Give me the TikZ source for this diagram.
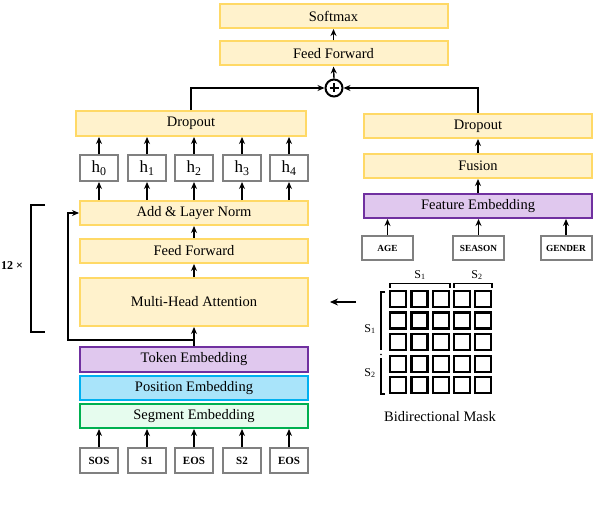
\documentclass[tikz,border=0pt]{standalone}
\usepackage{fontspec}
\setmainfont{Liberation Serif}
\usetikzlibrary{arrows.meta}
\definecolor{yfill}{HTML}{FFF2CC}
\definecolor{ydraw}{HTML}{FFD966}
\definecolor{pfill}{HTML}{E0C8EE}
\definecolor{pdraw}{HTML}{7030A0}
\definecolor{bfill}{HTML}{A9E4FA}
\definecolor{bdraw}{HTML}{00B0F0}
\definecolor{gfill}{HTML}{E6FCEE}
\definecolor{gdraw}{HTML}{00B050}
\definecolor{hdraw}{HTML}{808080}
\begin{document}
\begin{tikzpicture}[x=1pt,y=-1pt,
  box/.style={draw, line width=2pt, inner sep=0pt, font=\fontsize{14.5}{16}\selectfont},
  ybox/.style={box, fill=yfill, draw=ydraw},
  pbox/.style={box, fill=pfill, draw=pdraw},
  bbox/.style={box, fill=bfill, draw=bdraw},
  gbox/.style={box, fill=gfill, draw=gdraw},
  wide/.style={minimum width=228, minimum height=24},
  hbox/.style={draw=hdraw, line width=2pt, fill=white, inner sep=0pt, minimum width=38, minimum height=26, font=\fontsize{17}{18}\selectfont},
  inbox/.style={draw=hdraw, line width=2pt, fill=white, inner sep=0pt, minimum width=38, minimum height=25, font=\fontsize{11}{12}\selectfont\bfseries},
  fbox/.style={draw=hdraw, line width=2pt, fill=white, inner sep=0pt, minimum width=51, minimum height=24, font=\fontsize{9.3}{10}\selectfont\bfseries},
  msq/.style={draw, line width=2.3pt, fill=white, inner sep=0pt, minimum size=16},
  arr/.style={-{Stealth[length=7pt,width=6pt]}, line width=1.4pt},
  brk/.style={line width=1.1pt},
  lbl/.style={inner sep=0pt, font=\fontsize{12}{13}\selectfont}
]
\useasboundingbox (0,0) rectangle (596,508);

% top
\node[ybox, wide] (softmax) at (333.5,16) {Softmax};
\node[ybox, wide] (ff2) at (333.5,53.5) {Feed Forward};
\node[circle, draw, line width=2pt, minimum size=17, inner sep=0pt, fill=white] (plus) at (334,88) {};
\draw[line width=1.2pt] (plus.center) +(-4.5,0) -- +(4.5,0);
\draw[line width=1.2pt] (plus.center) +(0,-4.5) -- +(0,4.5);

% left column
\node[ybox, minimum width=230, minimum height=25] (drop1) at (191,123.5) {Dropout};
\foreach \i/\x in {0/99,1/147,2/194,3/242,4/289}{
  \node[hbox] (h\i) at (\x,168) {h\textsubscript{\i}};
}
\node[ybox, wide] (addn) at (194,213) {Add \& Layer Norm};
\node[ybox, wide] (ff1) at (194,251) {Feed Forward};
\node[ybox, minimum width=228, minimum height=48] (mha) at (194,302) {Multi-Head Attention};
\node[pbox, minimum width=228, minimum height=25] (tok) at (194,359.5) {Token Embedding};
\node[bbox, wide] (pos) at (194,388) {Position Embedding};
\node[gbox, wide] (seg) at (194,416) {Segment Embedding};
\foreach \i/\x/\t in {0/99/SOS,1/147/S1,2/194/EOS,3/242/S2,4/289/EOS}{
  \node[inbox] (in\i) at (\x,460.5) {\t};
  \draw[arr] (in\i.north) -- (in\i.north |- seg.south);
}
\foreach \i in {0,...,4}{
  \draw[arr] (addn.north -| h\i) -- (h\i.south);
  \draw[arr] (h\i.north) -- (h\i.north |- drop1.south);
}
\draw[arr] (ff1.north) -- (addn.south);
\draw[arr] (mha.north) -- (ff1.south);
\draw[arr] (tok.north) -- (mha.south);
\coordinate (rb) at (68,340);
\draw[arr] (tok.north |- rb) -- (rb) |- (addn.west);

% repeat bracket
\draw[line width=1.4pt] (45,205) -- (31,205) -- (31,332) -- (45,332);
\node[inner sep=0pt, font=\fontsize{12}{13}\selectfont\bfseries] (rep) at (12,266) {12 ×};

% right column
\node[ybox, wide] (drop2) at (478,126) {Dropout};
\node[ybox, wide] (fusion) at (478,166) {Fusion};
\node[pbox, wide] (feat) at (478,206) {Feature Embedding};
\node[fbox] (age) at (387.5,248) {AGE};
\node[fbox] (season) at (478.5,248) {SEASON};
\node[fbox] (gender) at (566,248) {GENDER};
\foreach \n in {age,season,gender}{
  \draw[arr] (\n.north) -- (\n.north |- feat.south);
}
\draw[arr] (feat.north) -- (fusion.south);
\draw[arr] (fusion.north) -- (drop2.south);

% merge
\draw[arr] (drop1.north) |- (plus.west);
\draw[arr] (drop2.north) |- (plus.east);
\draw[arr] (plus.north) -- (ff2.south);
\draw[arr] (ff2.north) -- (softmax.south);

% mask
\foreach \r in {0,...,4}{
  \foreach \c in {0,...,4}{
    \node[msq] (m\r\c) at ({398.3+21.25*\c},{298.7+21.65*\r}) {};
  }
}
\draw[brk] (390,287.5) -- (390,283.5) -- (450,283.5) -- (450,287.5);
\draw[brk] (454,287.5) -- (454,283.5) -- (492,283.5) -- (492,287.5);
\node[lbl] (ts1) at (420,275) {S\textsubscript{1}};
\node[lbl] (ts2) at (477,275) {S\textsubscript{2}};
\draw[brk] (385,292) -- (381,292) -- (381,350);
\fill (381,354.5) circle (0.9);
\draw[brk] (381,358) -- (381,394) -- (385,394);
\node[lbl] (ls1) at (370,329) {S\textsubscript{1}};
\node[lbl] (ls2) at (370,373) {S\textsubscript{2}};
\coordinate (ma) at (356,302);
\coordinate (mb) at (330,302);
\draw[-{Stealth[length=8pt,width=7pt]}, line width=2.2pt] (ma) -- (mb);
\node[inner sep=0pt, font=\fontsize{14.5}{16}\selectfont] (mlabel) at (440,417) {Bidirectional Mask};
\end{tikzpicture}
\end{document}
